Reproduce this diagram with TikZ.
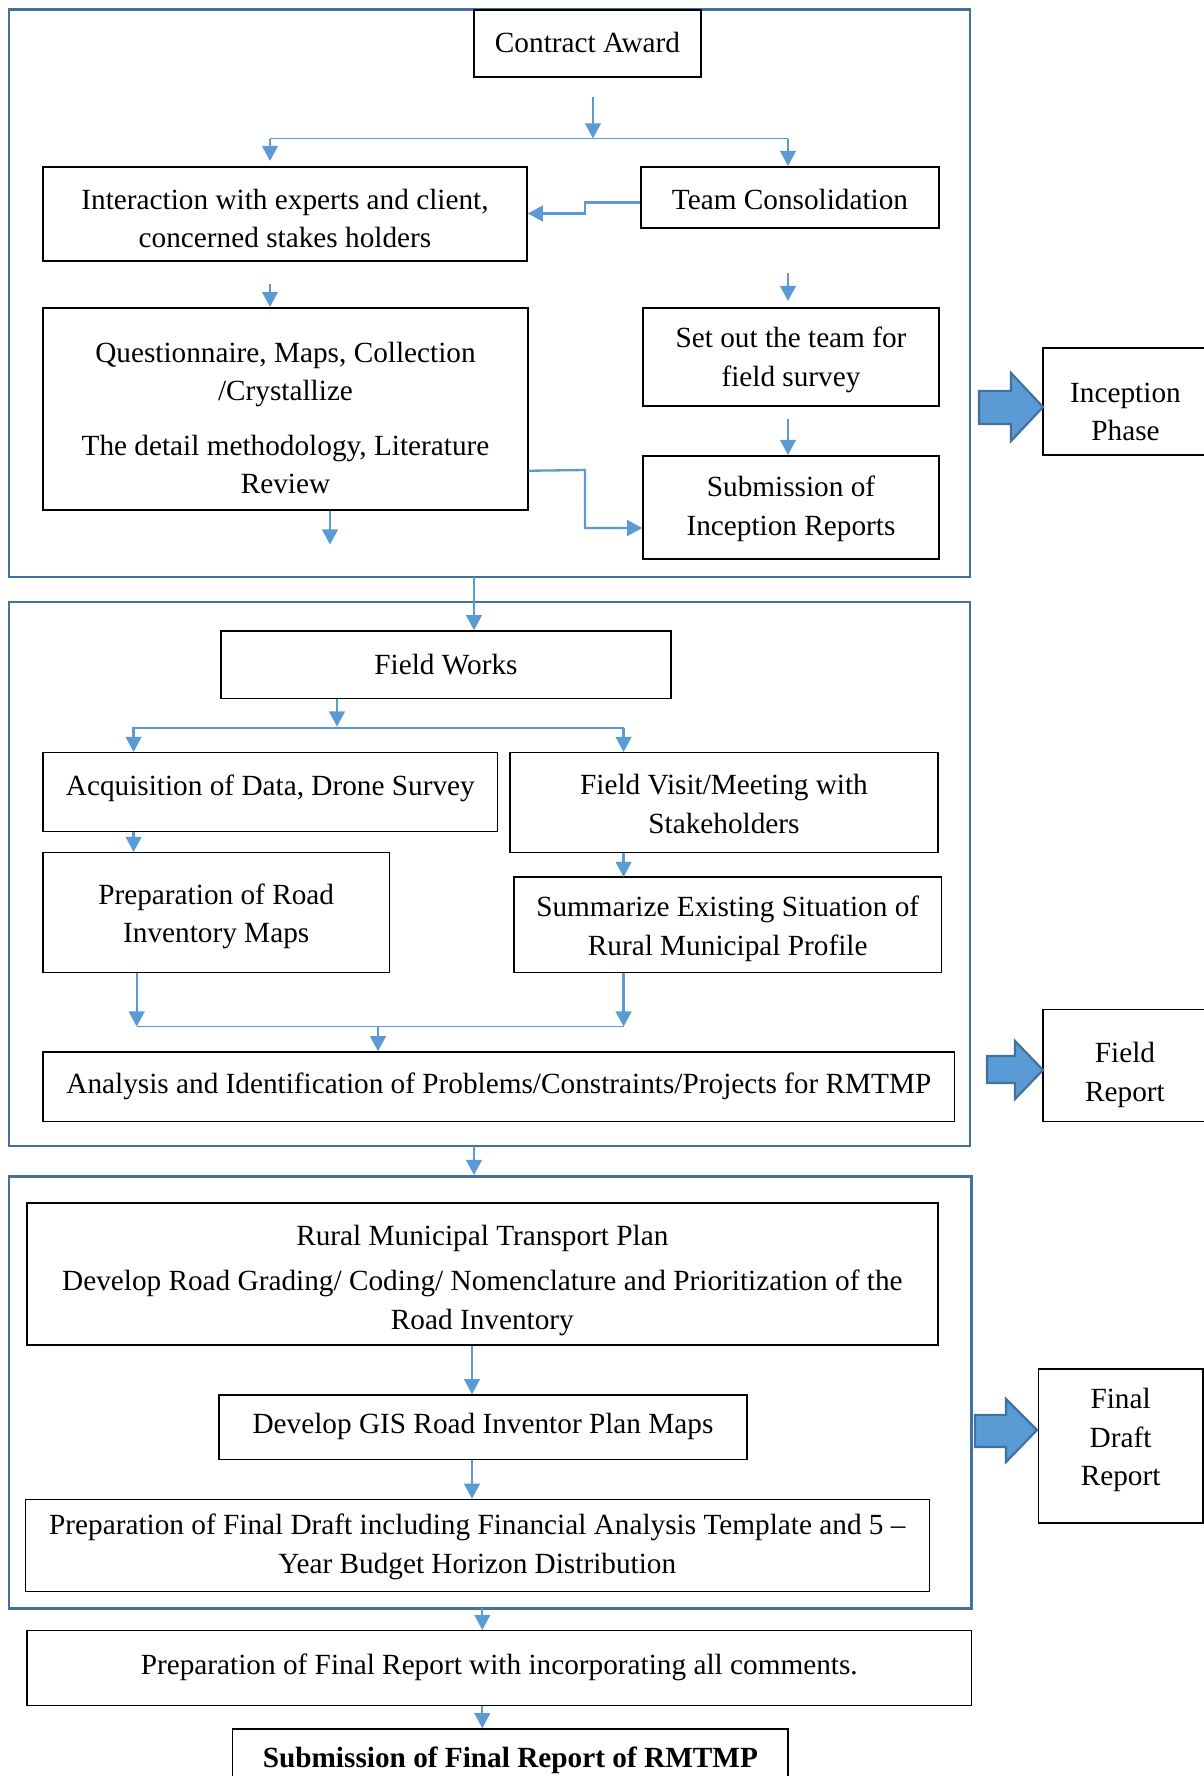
\documentclass[tikz,border=0pt]{standalone}
\usepackage{fontspec}
\setmainfont{Liberation Serif}
\usetikzlibrary{fit,arrows.meta,calc}
\definecolor{phaseblue}{RGB}{65,113,156}
\definecolor{connblue}{RGB}{91,155,213}
\tikzset{
  txt/.style={align=center, font=\fontsize{12}{15.8}\selectfont, inner sep=0pt},
  box/.style={draw=black, line width=0.6pt, inner sep=0pt},
  phase/.style={draw=phaseblue, line width=1.2pt, inner sep=0pt},
  conn/.style={draw=connblue, line width=0.95pt, -{Triangle[length=6.2pt,width=6.4pt]}},
  plain/.style={draw=connblue, line width=0.6pt},
  bigarrow/.style={fill=connblue, draw=phaseblue, line width=0.9pt, line join=miter},
}
\begin{document}
\begin{tikzpicture}[x=0.41pt, y=-0.41pt]
\useasboundingbox (0,0) rectangle (1204,1776);
\clip (0,0) rectangle (1204,1776);

% ---------- phase 1 ----------
\node[phase, fit={(9,9.5)(970,577)}] (phase1) {};
\node[box, fit={(474,10)(701,77)}] (award) {};
\node[txt] (awardt) at ($(award.center)+(0,-1)$) {Contract Award};
\node[box, fit={(43,167)(527,261)}] (interact) {};
\node[txt] (interactt) at ($(interact.center)+(0,4.5)$) {Interaction with experts and client,\\concerned stakes holders};
\node[box, fit={(641,167)(939,228)}] (team) {};
\node[txt] (teamt) at ($(team.center)+(0,2)$) {Team Consolidation};
\node[box, fit={(43,308)(528,510)}] (quest) {};
\node[txt] (questt) at ($(quest.center)+(0,9)$) {Questionnaire, Maps, Collection\\/Crystallize\\[6.5pt]The detail methodology, Literature\\Review};
\node[box, fit={(643,308)(939,406)}] (setout) {};
\node[txt] (setoutt) at ($(setout.center)+(0,3)$) {Set out the team for\\field survey};
\node[box, fit={(643,456)(939,559)}] (subinc) {};
\node[txt] (subinct) at ($(subinc.center)+(0,1.5)$) {Submission of\\Inception Reports};
\node[box, fit={(1043,348)(1208,455)}] (incep) {};
\node[txt] (incept) at ($(incep.center)+(0,10.5)$) {Inception\\Phase};

\coordinate (a1) at (593,97);
\coordinate (s1) at (593,138.5);
\coordinate (s1l) at (270,138.5);
\coordinate (s1r) at (788,138.5);
\draw[conn] (a1) -- (s1);
\draw[plain] (s1l) -- (s1r);
\draw[conn] (s1l) -- (270,161);
\draw[conn] (s1r) -- (788,166);
\draw[conn] ($(team.west)+(0,5)$) -- (585,202.5) |- ($(interact.east)+(0,-0.5)$);
\coordinate (a2) at (270,283.6);
\draw[conn] (a2) -- (270,307);
\coordinate (a3) at (788,273);
\draw[conn] (a3) -- (788,301);
\coordinate (a4) at (788,419);
\draw[conn] (a4) -- (788,455);
\draw[conn] ($(quest.south east)+(0,-40)$) -- (585,470) |- ($(subinc.west)+(0,20.5)$);
\coordinate (a5) at (330,544.6);
\draw[conn] (quest.south -| a5) -- (a5);

\draw[bigarrow] (979,391) -- (1011,391) -- (1011,373) -- (1043,407) -- (1011,441) -- (1011,424) -- (979,424) -- cycle;

% ---------- phase 2 ----------
\node[phase, fit={(9,602)(970,1146)}] (phase2) {};
\node[box, fit={(221,631)(671,698.6)}] (fieldworks) {};
\node[txt] (fieldworkst) at ($(fieldworks.center)+(0,0)$) {Field Works};
\node[box, fit={(43,752.6)(497.7,831.4)}] (acq) {};
\node[txt] (acqt) at ($(acq.center)+(0,-3.5)$) {Acquisition of Data, Drone Survey};
\node[box, fit={(510,752.6)(938,852.5)}] (visit) {};
\node[txt] (visitt) at ($(visit.center)+(0,1.5)$) {Field Visit/Meeting with\\Stakeholders};
\node[box, fit={(43,852.5)(389.4,972.6)}] (road) {};
\node[txt] (roadt) at ($(road.center)+(0,4)$) {Preparation of Road\\Inventory Maps};
\node[box, fit={(513.8,877)(941.6,972.6)}] (summ) {};
\node[txt] (summt) at ($(summ.center)+(0,4)$) {Summarize Existing Situation of\\Rural Municipal Profile};
\node[box, fit={(43,1052)(954.7,1121.5)}] (analysis) {};
\node[txt] (analysist) at ($(analysis.center)+(0,0)$) {Analysis and Identification of Problems/Constraints/Projects for RMTMP};
\node[box, fit={(1043,1009.4)(1207,1121.5)}] (fieldrep) {};
\node[txt] (fieldrept) at ($(fieldrep.center)+(0,9.5)$) {Field\\Report};

\coordinate (p1) at (474,577);
\draw[conn] (p1) -- (p1 |- fieldworks.north);
\coordinate (s2) at (337,728);
\draw[conn] (fieldworks.south -| s2) -- (337,726.6);
\coordinate (s2l) at (132,728);
\coordinate (s2r) at (624,728);
\draw[plain] (s2l) -- (s2r);
\draw[conn] (133.6,728) -- (133.6,752);
\draw[conn] (623.6,728) -- (623.6,752);
\draw[conn] (acq.south -| 133.6,0) -- (133.6,852);
\draw[conn] (visit.south -| 623.6,0) -- (623.6,877);
\coordinate (j1) at (136.7,1026.6);
\coordinate (j2) at (623.6,1026.6);
\draw[conn] (road.south -| j1) -- (j1);
\draw[conn] (summ.south -| j2) -- (j2);
\draw[plain] (j1) -- (j2);
\coordinate (j3) at (378,1026.6);
\draw[conn] (j3) -- (j3 |- analysis.north);

\draw[bigarrow] (987,1056) -- (1015,1056) -- (1015,1041) -- (1043,1070) -- (1015,1099) -- (1015,1083) -- (987,1083) -- cycle;

% ---------- phase 3 ----------
\node[phase, fit={(9,1176.5)(971.6,1608.3)}] (phase3) {};
\coordinate (p2) at (474,1146);
\draw[conn] (p2) -- (p2 |- phase3.north);
\node[box, fit={(26.9,1203)(937.8,1345)}] (rural) {};
\node[txt] (ruralt) at ($(rural.center)+(0,6.5)$) {Rural Municipal Transport Plan\\[2.8pt]Develop Road Grading/ Coding/ Nomenclature and Prioritization of the\\Road Inventory};
\node[box, fit={(219,1395)(747,1459.4)}] (gis) {};
\node[txt] (gist) at ($(gis.center)+(0,-0.5)$) {Develop GIS Road Inventor Plan Maps};
\node[box, fit={(25.3,1499.5)(929.3,1591.4)}] (draft) {};
\node[txt] (draftt) at ($(draft.center)+(0,1.5)$) {Preparation of Final Draft including Financial Analysis Template and 5 --\\Year Budget Horizon Distribution};
\node[box, fit={(1038.4,1369)(1202.8,1523)}] (finaldraft) {};
\node[txt] (finaldraftt) at ($(finaldraft.center)+(0,-6)$) {Final\\Draft\\Report};

\coordinate (g1) at (472,1345);
\draw[conn] (rural.south -| g1) -- (g1 |- gis.north);
\draw[conn] (gis.south -| g1) -- (g1 |- draft.north);

\draw[bigarrow] (975,1415) -- (1006,1415) -- (1006,1399) -- (1037,1430) -- (1006,1462) -- (1006,1447) -- (975,1447) -- cycle;

% ---------- final ----------
\node[box, fit={(26.9,1630.7)(971.6,1705.4)}] (finalrep) {};
\node[txt] (finalrept) at ($(finalrep.center)+(0,-0.5)$) {Preparation of Final Report with incorporating all comments.};
\node[box, fit={(232.7,1729)(788,1788)}] (submit) {};
\node[txt] (submitt) at ($(submit.center)+(0,2)$) {\textbf{Submission of Final Report of RMTMP}};
\coordinate (f1) at (482.3,1608.3);
\draw[conn] (f1) -- (f1 |- finalrep.north);
\draw[conn] (finalrep.south -| f1) -- (f1 |- submit.north);
\end{tikzpicture}
\end{document}
